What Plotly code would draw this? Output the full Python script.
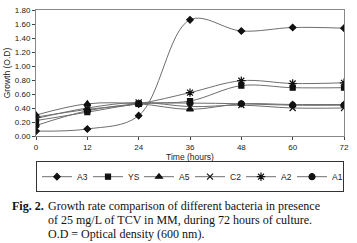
import plotly.graph_objects as go

hours = [0, 12, 24, 36, 48, 60, 72]
A3 = [0.07, 0.10, 0.29, 1.66, 1.50, 1.55, 1.54]
YS = [0.22, 0.34, 0.46, 0.50, 0.72, 0.69, 0.69]
A5 = [0.30, 0.46, 0.46, 0.38, 0.46, 0.45, 0.45]
C2 = [0.25, 0.40, 0.48, 0.42, 0.44, 0.40, 0.40]
A2 = [0.27, 0.38, 0.46, 0.62, 0.79, 0.75, 0.76]
A1 = [0.15, 0.36, 0.46, 0.47, 0.46, 0.44, 0.44]

y_ticks = [0, 0.2, 0.4, 0.6, 0.8, 1.0, 1.2, 1.4, 1.6, 1.8]
x_ticks = [0, 12, 24, 36, 48, 60, 72]

series = [
    ("A3", A3, "diamond", 5),
    ("YS", YS, "square", 5),
    ("A5", A5, "triangle-up", 6),
    ("C2", C2, "x-thin-open", 6),
    ("A2", A2, "asterisk-open", 7),
    ("A1", A1, "circle", 6),
]

fig = go.Figure()
for name, vals, sym, sz in series:
    fig.add_trace(go.Scatter(
        x=hours, y=vals, name=name, mode="lines+markers",
        line=dict(color="#6e6e6e", width=1, shape="spline", smoothing=1),
        marker=dict(symbol=sym, size=sz, color="#111111",
                    line=dict(color="#111111", width=1.2)),
    ))

fig.update_layout(
    width=357, height=243,
    margin=dict(l=36, r=13, t=10, b=107, autoexpand=False),
    paper_bgcolor="white", plot_bgcolor="white",
    font=dict(family="Arial, Liberation Sans, sans-serif", size=8, color="#222222"),
    showlegend=True,
    legend=dict(
        orientation="h", x=0.5, xanchor="center", y=-0.2, yanchor="top",
        bordercolor="#333333", borderwidth=1, font=dict(size=8.5),
        itemwidth=30, entrywidth=6, entrywidthmode="pixels", tracegroupgap=0,
    ),
)
fig.update_xaxes(
    range=[0, 72], tickvals=x_ticks, ticks="outside", ticklen=3,
    showgrid=False, zeroline=False, showline=True, linecolor="#888888",
    mirror=True, tickfont=dict(size=8), automargin=False,
    title=dict(text="Time (hours)", font=dict(size=8.5), standoff=0),
)
fig.update_yaxes(
    range=[0, 1.8], tickvals=y_ticks, tickformat=".2f", ticks="outside", ticklen=3,
    showgrid=False, zeroline=False, showline=True, linecolor="#888888",
    mirror=True, tickfont=dict(size=8), automargin=False,
    title=dict(text="Growth (O.D)", font=dict(size=8.5), standoff=2),
)

serif = "Times New Roman, Liberation Serif, serif"
fig.add_annotation(text="<b>Fig. 2.</b>", xref="paper", yref="paper",
                   x=-0.085, y=-0.555, xanchor="left", yanchor="middle",
                   showarrow=False, font=dict(family=serif, size=12, color="#111111"))
lines = [
    "Growth rate comparison of different bacteria in presence",
    "of 25 mg/L of TCV in MM, during 72 hours of culture.",
    "O.D = Optical density (600 nm).",
]
for i, t in enumerate(lines):
    fig.add_annotation(text=t, xref="paper", yref="paper",
                       x=0.032, y=-0.555 - i * 0.112, xanchor="left", yanchor="middle",
                       showarrow=False, font=dict(family=serif, size=12, color="#111111"))

fig.write_html("out.html", config={"displayModeBar": False},
               post_script="document.body.style.margin='0';")
